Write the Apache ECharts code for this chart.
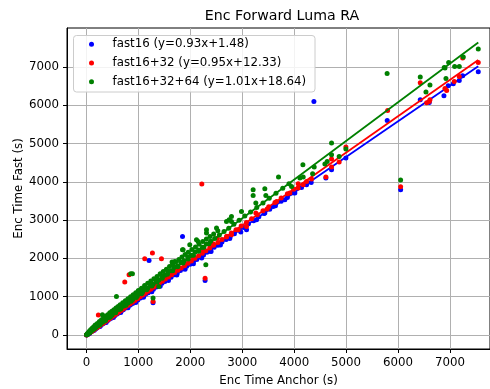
<!DOCTYPE html>
<html>
<head>
<meta charset="utf-8">
<script src="https://cdn.jsdelivr.net/npm/echarts@6/dist/echarts.min.js"></script>
<style>html,body{margin:0;padding:0;background:#fff}#c{width:490px;height:389px}</style>
</head>
<body>
<div id="c"></div>
<script>
const chartTitle = 'Enc Forward Luma RA';
const xAxisLabel = 'Enc Time Anchor (s)';
const yAxisLabel = 'Enc Time Fast (s)';
const tickValues = [0, 1000, 2000, 3000, 4000, 5000, 6000, 7000];
const seriesNames = ['fast16 (y=0.93x+1.48)', 'fast16+32 (y=0.95x+12.33)', 'fast16+32+64 (y=1.01x+18.64)'];
const fitSlopes = [0.93, 0.95, 1.01];
const fitIntercepts = [1.48, 12.33, 18.64];

// [anchor time, fast time]
const fast16Points = [
[2,2],[5,4],[8,7],[12,11],[18,16],[25,23],[33,30],[42,39],[55,50],[68,63],[82,76],[100,92],[118,110],[135,124],[155,144],[178,164],[200,186],[225,207],[250,233],[280,258],[310,289],[340,314],[372,347],[405,375],[440,410],[475,440],[510,475],[550,509],[590,550],[630,584],[670,624],[710,657],[755,703],[800,741],[845,787],[890,824],[940,875],[990,917],[1040,968],[1090,1010],[1140,1062],[1190,1103],[1240,1155],[1290,1196],[1345,1252],[1400,1297],[1455,1355],[1510,1400],[1570,1461],[1630,1511],[1690,1573],[1750,1622],[1810,1685],[1870,1733],[1930,1797],[1995,1849],[2060,1917],[2125,1970],[2190,2039],[2255,2091],[2320,2159],[2390,2216],[2460,2290],[2530,2346],[2610,2430],[2690,2494],[2770,2578],[2850,2643],[2940,2737],[3030,2810],[3120,2905],[3220,2987],[3320,3090],[3420,3172],[3530,3287],[3640,3376],[3750,3492],[3870,3590],[3990,3715],
[60,40],[150,125],[260,225],[380,330],[520,455],[660,585],[800,715],[950,850],[1100,985],[1260,1130],[1420,1275],[1580,1425],[1740,1570],[1900,1715],[2060,1860],[2220,2010],[2400,2180],[2580,2350],
[4142,3854],[4328,3984],[4611,4099],[4720,4316],[4996,4621],[3950,3708],[4239,3924],[4013,3708],[3821,3533],[3596,3358],[3435,3185],[3276,3010],[3083,2749],[2973,2690],[2761,2520],[2568,2370],[2376,2190],[2183,2052],[1991,1870],
[4380,6099],[5792,5603],[6050,3794],[6428,6143],[6601,6073],[6884,6248],[6967,6509],[7064,6561],[7179,6648],[7245,6770],[7545,6875],[1850,2575],[1206,1948],[2285,1425],[1283,845]
];
const fast16_32Points = [
[2,3],[6,6],[10,10],[16,16],[22,22],[30,30],[40,40],[52,52],[65,64],[80,78],[96,93],[112,108],[130,126],[150,145],[172,166],[195,188],[220,212],[246,237],[275,265],[305,293],[335,322],[368,354],[400,385],[435,418],[470,452],[506,487],[545,524],[585,563],[625,602],[665,640],[708,682],[750,724],[795,768],[840,812],[888,858],[935,902],[985,950],[1035,998],[1085,1046],[1135,1094],[1188,1143],[1240,1192],[1295,1245],[1350,1298],[1405,1350],[1462,1405],[1520,1460],[1580,1517],[1640,1575],[1700,1632],[1762,1690],[1825,1750],[1890,1812],[1955,1875],[2020,1935],[2090,2002],[2160,2068],[2230,2135],[2300,2200],[2375,2270],[2450,2342],[2530,2418],[2610,2494],[2700,2580],[2790,2664],[2880,2752],[2980,2846],[3080,2940],[3180,3035],[3290,3140],[3400,3245],[3510,3348],[3630,3462],[3750,3575],[3870,3690],[3990,3804],
[120,130],[280,290],[440,445],[600,615],[760,770],[920,935],[1080,1090],[1240,1255],[1400,1415],[1560,1570],[1720,1740],[1880,1895],[2040,2055],[2200,2215],[2360,2375],[2520,2530],
[3262,3185],[3480,3290],[3661,3488],[3917,3708],[4077,3838],[4239,4010],[3083,2837],[2921,2749],[2793,2619],[2697,2559],[2440,2384],[2247,2227],[2054,2037],
[5800,5864],[6428,6587],[6551,6065],[6601,6099],[6904,6439],[6936,6387],[7083,6621],[7179,6752],[7245,7232],[7545,7117],[6615,6143],[6050,3872],[4996,4909],[4867,4517],[4720,4595],[4720,4386],[4611,4125],[4335,4073],[4174,3924],[4077,3950],
[2222,3943],[2285,1480],[1123,1992],[1271,2141],[1445,1992],[821,1574],[738,1384],[1283,877],[230,520]
];
const fast16_32_64Points = [
[3,4],[7,8],[12,13],[18,20],[26,29],[35,39],[45,50],[58,66],[70,80],[85,95],[100,118],[115,128],[130,150],[150,165],[165,190],[185,205],[200,235],[220,240],[240,275],[265,290],[290,330],[315,340],[340,385],[370,395],[400,450],[430,455],[460,515],[495,525],[530,590],[565,600],[600,665],[640,675],[680,745],[720,760],[760,830],[800,835],[845,920],[890,930],[935,1010],[980,1020],[1030,1110],[1080,1120],[1130,1210],[1180,1220],[1230,1320],[1285,1330],[1340,1430],[1395,1440],[1450,1540],[1510,1560],[1570,1660],[1630,1680],[1690,1770],[1750,1800],[1815,1900],[1880,1940],[1950,2040],[2020,2080],[2090,2170],[2160,2220],[2235,2290],[2310,2380],[2390,2450],[2470,2520],[2560,2610],[2650,2700],[2740,2790],[2840,2890],[2940,3000],[3050,3110],[3160,3210],[3280,3330],[3400,3450],[3520,3570],[3650,3700],[3780,3830],[3900,3950],
[20,40],[50,90],[80,140],[110,180],[140,215],[170,260],[210,300],[250,350],[290,400],[330,440],[370,490],[410,530],[450,580],[490,620],[530,660],[570,705],[610,745],[650,790],[700,840],[750,895],[800,945],[850,1000],[900,1050],[950,1105],[1000,1160],[1060,1220],[1120,1290],[1180,1350],[1240,1410],[1300,1470],[1360,1530],[1420,1600],[1480,1660],[1540,1720],[1600,1790],[1660,1850],[1720,1910],[1780,1970],[1840,2040],[1900,2100],[1960,2160],[2030,2230],[2100,2300],[2170,2370],[2240,2440],[2310,2510],[2380,2570],[2450,2640],[2530,2720],
[60,60],[160,175],[260,270],[360,375],[460,470],[560,580],[660,680],[760,780],[860,880],[960,980],[1060,1080],[1160,1180],[1260,1280],[1360,1385],[1460,1480],[1560,1585],[1660,1680],[1760,1785],[1860,1880],[1960,1985],[2060,2085],[2160,2185],[2260,2290],[2360,2385],
[3699,4125],[3435,3820],[3210,3794],[3210,3645],[3262,3446],[3455,3645],[2986,3227],[2793,3097],[2748,3010],[2793,2966],[2697,2966],[2505,2794],[2312,2749],[2312,2663],[2119,2488],[1990,2358],[1862,2227],[1701,1922],[1850,2227],[2150,2444],[1649,1906],
[2299,1836],[1283,966],[578,1008],[853,1600],[886,1600],[308,530],[1393,1269],
[5790,6830],[6428,6736],[6890,6987],[6975,7117],[7090,7013],[7180,7013],[6923,6700],[6615,6527],[6538,6345],[6050,4047],[4720,5013],[4720,4708],[4867,4663],[4996,4856],[4168,4446],[4386,4386],[4592,4465],[4636,4533],[4355,4212],[4174,4125],[4110,4099],[3950,3880],[7545,7467],[7257,7258],[6904,6971]
];

const allSeriesPoints = [fast16Points, fast16_32Points, fast16_32_64Points];
const colors = ['#0000ff', '#ff0000', '#008000'];
const FONT = 'DejaVu Sans';

const series = [];
allSeriesPoints.forEach((pts, i) => {
  series.push({
    name: seriesNames[i], type: 'scatter', data: pts, symbolSize: 5,
    itemStyle: { color: colors[i], opacity: 1 }, z: 3 + i * 2, silent: true
  });
  const xs = pts.map(p => p[0]);
  const x0 = Math.min(...xs), x1 = Math.max(...xs);
  series.push({
    type: 'line', data: [[x0, fitSlopes[i] * x0 + fitIntercepts[i]], [x1, fitSlopes[i] * x1 + fitIntercepts[i]]],
    showSymbol: false, symbol: 'none', lineStyle: { color: colors[i], width: 1.8 }, z: 4 + i * 2, silent: true
  });
});

const plainNum = v => String(v);
const chart = echarts.init(document.getElementById('c'), null, { renderer: 'canvas' });
chart.setOption({
  animation: false,
  backgroundColor: '#fff',
  title: {
    text: chartTitle, left: 282, top: 9, padding: 0, textAlign: 'center',
    textStyle: { fontFamily: FONT, fontSize: 14.2, fontWeight: 'normal', color: '#000' }
  },
  graphic: [{
    type: 'rect', z: 50, silent: true,
    shape: { x: 73.5, y: 35.5, width: 241.5, height: 56.5, r: 3 },
    style: { fill: 'rgba(255,255,255,0.85)', stroke: '#cccccc', lineWidth: 1 }
  }],
  legend: {
    data: seriesNames, orient: 'vertical', left: 85, top: 35, z: 60,
    padding: [2.3, 4, 2.3, 4], itemGap: 4.7, itemWidth: 24, itemHeight: 5, icon: 'circle',
    textStyle: { fontFamily: FONT, fontSize: 11.8, color: '#000', lineHeight: 14, padding: [0, 0, 0, 4] }
  },
  grid: { left: 67, right: 0, top: 28, bottom: 40, show: true, borderColor: '#000', borderWidth: 1, containLabel: false, outerBoundsMode: 'none' },
  xAxis: {
    type: 'value', min: -374, max: 7771,
    name: xAxisLabel, nameLocation: 'middle', nameGap: 26, nameMoveOverlap: false,
    nameTextStyle: { fontFamily: FONT, fontSize: 11.8, color: '#000' },
    axisLine: { show: true, onZero: false, lineStyle: { color: '#000', width: 1 } },
    axisTick: { show: true, length: 4, lineStyle: { color: '#000' }, customValues: tickValues },
    axisLabel: { fontFamily: FONT, fontSize: 11.8, color: '#000', margin: 8, customValues: tickValues, formatter: plainNum },
    splitLine: { show: true, lineStyle: { color: '#b0b0b0', width: 1 } }
  },
  yAxis: {
    type: 'value', min: -365, max: 8017,
    name: yAxisLabel, nameLocation: 'middle', nameGap: 42, nameMoveOverlap: false,
    nameTextStyle: { fontFamily: FONT, fontSize: 11.8, color: '#000' },
    axisLine: { show: true, onZero: false, lineStyle: { color: '#000', width: 1 } },
    axisTick: { show: true, length: 4, lineStyle: { color: '#000' }, customValues: tickValues },
    axisLabel: { fontFamily: FONT, fontSize: 11.8, color: '#000', margin: 8, customValues: tickValues, formatter: plainNum },
    splitLine: { show: true, lineStyle: { color: '#b0b0b0', width: 1 } }
  },
  series: series
});
</script>
</body>
</html>
